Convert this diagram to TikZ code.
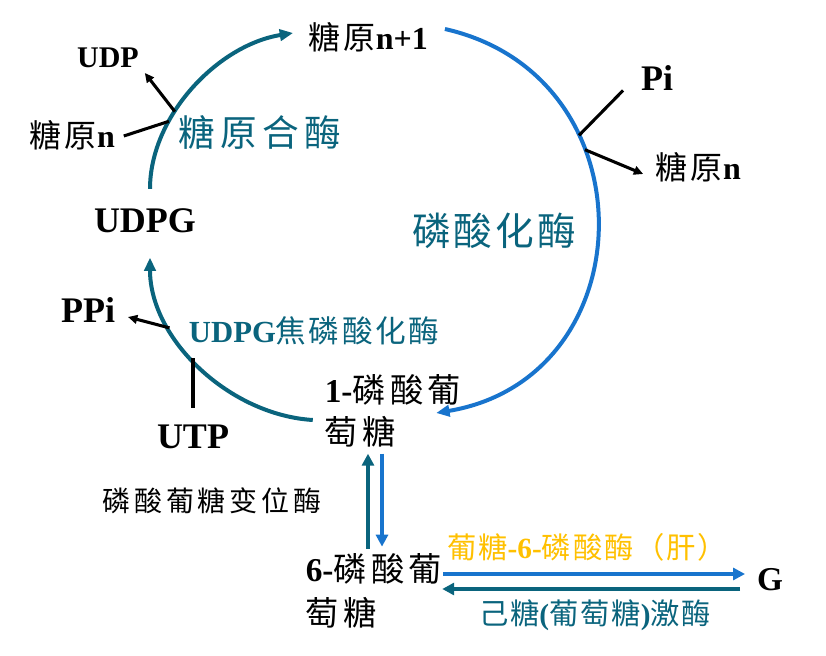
\documentclass[tikz,border=0pt]{standalone}
\usepackage{fontspec}
\setmainfont{Liberation Serif}
\newfontfamily\cjk{Noto Sans CJK SC}
\usetikzlibrary{arrows.meta}
\definecolor{enzteal}{RGB}{10,100,125}
\definecolor{enzblue}{RGB}{24,116,205}
\definecolor{enzgold}{RGB}{255,192,0}
% chinese text, optional letter spacing
\newcommand\zh[2][0]{{\cjk\mdseries\addfontfeature{LetterSpace=#1}#2}}
\newcommand\fs[1]{\fontsize{#1}{1.3\dimexpr #1pt\relax}\selectfont}

\begin{document}
\begin{tikzpicture}[x=0.75pt, y=-0.75pt,
  every node/.style={inner sep=0pt, outer sep=0pt},
  blk/.style={font=\bfseries\fs{24}, align=left},
  big/.style={font=\bfseries\fs{27}},
  enz/.style={text=enzteal, font=\bfseries\fs{27.5}},
  tealarc/.style={draw=enzteal, line width=3pt, -{Triangle[length=10pt,width=8.5pt]}},
  bluearc/.style={draw=enzblue, line width=3pt, -{Triangle[length=10pt,width=8.5pt]}},
  tealline/.style={draw=enzteal, line width=2.8pt, -{Triangle[length=9pt,width=9pt]}},
  blueline/.style={draw=enzblue, line width=2.8pt, -{Triangle[length=9pt,width=9pt]}},
  side/.style={draw=black, line width=2.3pt},
  sidearr/.style={side, -{Triangle[length=7pt,width=6.5pt]}}]
  \useasboundingbox (0,0) rectangle (826,656);

  % metabolites
  \node[blk] (g1) at (368,37) {\zh[12]{糖原}n+1};
  \node[font=\bfseries\fs{22.5}] (udp) at (108,58) {UDP};
  \node[blk] (gnl) at (72,135) {\zh[12]{糖原}n};
  \node[big] (pi) at (657,78) {Pi};
  \node[blk] (gnr) at (698,167) {\zh[12]{糖原}n};
  \node[big] (udpg) at (145,221) {UDPG};
  \node[big] (ppi) at (88,310) {PPi};
  \node[blk, font=\bfseries\fontsize{25}{32}\selectfont] (g1p) at (393,411) {1-\zh[13]{磷酸葡}\\\zh[13]{萄糖}};
  \node[big] (utp) at (193,437) {UTP};
  \node[blk, font=\bfseries\fontsize{25}{33}\selectfont] (g6p) at (374,591) {6-\zh[13]{磷酸葡}\\\zh[13]{萄糖}};
  \node[font=\bfseries\fs{25}] (gluc) at (770,580) {G};

  % enzymes
  \node[enz] (synth) at (260,132) {\zh[14]{糖原合酶}};
  \node[enz, font=\bfseries\fs{29}] (phos) at (494,231) {\zh[8]{磷酸化酶}};
  \node[enz, font=\bfseries\fs{23}] (pyro) at (314,331) {UDPG\zh[8]{焦磷酸化酶}};
  \node[font=\fs{21}] (mutase) at (212,501) {\zh[14]{磷酸葡糖变位酶}};
  \node[text=enzgold, font=\bfseries\fs{22}] (g6pase) at (587,547) {\zh[6]{葡糖}-6-\zh[6]{磷酸酶（肝）}};
  \node[enz, font=\bfseries\fs{22}] (hexo) at (595,615) {\zh[6]{己糖}(\zh[6]{葡萄糖})\zh[6]{激酶}};

  % cycle
  \draw[tealarc] ([shift={(5,-20)}]udpg.north) .. controls +(0,-73) and +(-75,12) .. ([shift={(-15,-4)}]g1.west)
    coordinate[pos=0.32] (syn-a) coordinate[pos=0.37] (syn-b);
  \draw[bluearc] ([shift={(17,-8)}]g1.east) .. controls +(208,47) and +(210,-35) .. ([shift={(-25,2)}]g1p.east)
    coordinate[pos=0.32] (ph-a) coordinate[pos=0.35] (ph-b);
  \draw[tealarc] ([shift={(-12,9)}]g1p.west) .. controls +(-83,-5) and +(0,82) .. ([shift={(5,24.5)}]udpg.south)
    coordinate[pos=0.55] (py-a) coordinate[pos=0.7] (py-b);

  % side reactions
  \draw[sidearr] (syn-b) -- ([shift={(6,5)}]udp.south east);
  \draw[side] ([shift={(9,1)}]gnl.east) -- (syn-a);
  \draw[side] (ph-a) -- ([shift={(-18,0)}]pi.south west);
  \draw[sidearr] (ph-b) -- ([shift={(-12,7)}]gnr.west);
  \draw[sidearr] (py-b) -- ([shift={(13,7)}]ppi.east);
  \coordinate (utp-top) at ([shift={(0,-17)}]utp.north);
  \draw[side] (utp-top |- py-a) -- (utp-top);

  % mutase and glucose
  \draw[tealline] ([shift={(-6,-5)}]g6p.north) -- ([shift={(-25,6)}]g1p.south);
  \draw[blueline] ([shift={(-11,6)}]g1p.south) -- ([shift={(8,-7)}]g6p.north);
  \draw[blueline] ([shift={(1,-17)}]g6p.east) -- ([shift={(-12,-6)}]gluc.west);
  \draw[tealline] ([shift={(-17,9)}]gluc.west) -- ([shift={(0,-2)}]g6p.east);
\end{tikzpicture}
\end{document}
